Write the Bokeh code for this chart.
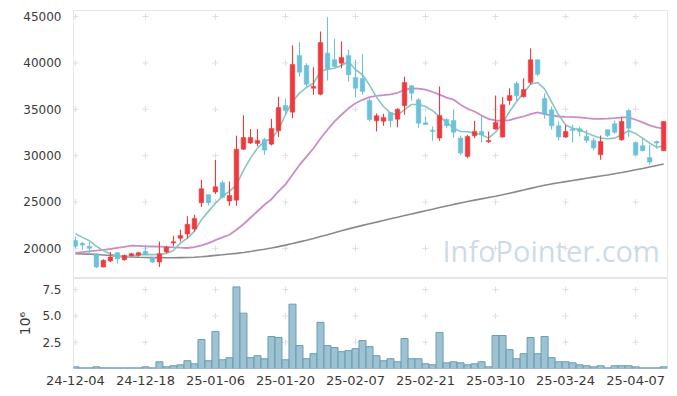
from bokeh.plotting import figure
from bokeh.layouts import column
from bokeh.models import ColumnDataSource, Range1d, FixedTicker, Label, NumeralTickFormatter
from bokeh.embed import file_html
from bokeh.resources import INLINE

dates = [
    "24-12-04", "24-12-05", "24-12-06", "24-12-09", "24-12-10", "24-12-11", "24-12-12", "24-12-13",
    "24-12-16", "24-12-17", "24-12-18", "24-12-19", "24-12-20", "24-12-23", "24-12-24", "24-12-26",
    "24-12-27", "24-12-30", "25-01-02", "25-01-03", "25-01-06", "25-01-07", "25-01-08", "25-01-09",
    "25-01-10", "25-01-13", "25-01-14", "25-01-15", "25-01-16", "25-01-17", "25-01-20", "25-01-21",
    "25-01-22", "25-01-23", "25-01-24", "25-01-31", "25-02-03", "25-02-04", "25-02-05", "25-02-06",
    "25-02-07", "25-02-10", "25-02-11", "25-02-12", "25-02-13", "25-02-14", "25-02-17", "25-02-18",
    "25-02-19", "25-02-20", "25-02-21", "25-02-24", "25-02-25", "25-02-26", "25-02-27", "25-02-28",
    "25-03-04", "25-03-05", "25-03-06", "25-03-07", "25-03-10", "25-03-11", "25-03-12", "25-03-13",
    "25-03-14", "25-03-17", "25-03-18", "25-03-19", "25-03-20", "25-03-21", "25-03-24", "25-03-25",
    "25-03-26", "25-03-27", "25-03-28", "25-03-31", "25-04-01", "25-04-02", "25-04-03", "25-04-04",
    "25-04-07", "25-04-08", "25-04-09", "25-04-10", "25-04-11",
]

opens = [20860, 20540, 20220, 19430, 17990, 18630, 19530, 18780, 19210, 19250,
         19680, 19030, 18520, 19600, 20570, 21080, 21540, 22080, 24930, 25790,
         26070, 27080, 25100, 25200, 30700, 31350, 31320, 31750, 31240, 32680,
         35410, 34690, 40800, 39720, 37270, 36630, 41050, 40330, 39970, 40800,
         38430, 38320, 35950, 33760, 33720, 34650, 33930, 35380, 37530, 36020,
         33540, 32750, 31890, 33900, 33790, 31890, 29910, 32140, 32610, 31500,
         32860, 32000, 35950, 37780, 36350, 37890, 40330, 36160, 34940, 33220,
         32000, 32860, 32900, 32070, 31640, 30100, 32790, 33440, 31710, 34870,
         31420, 31070, 29800, 31530, 30530]
highs = [21290, 20680, 20680, 19490, 18820, 19600, 19600, 19320, 19490, 19600,
         20400, 19060, 20750, 20290, 21370, 22010, 23450, 23630, 27400, 25800,
         29560, 27330, 27200, 32150, 34330, 32860, 32880, 31890, 33980, 36350,
         36130, 41880, 42230, 39970, 39540, 43380, 44920, 42600, 42300, 41410,
         40330, 40940, 36200, 34550, 34520, 34700, 35120, 38500, 37600, 36200,
         34220, 33150, 37460, 34040, 35010, 32140, 32250, 33760, 34330, 32610,
         36490, 36300, 37270, 38000, 38350, 41580, 40400, 36740, 35300, 33690,
         33330, 33330, 33150, 32790, 31890, 32180, 32850, 33790, 34150, 35010,
         31530, 31890, 31170, 31600, 33700]
lows = [20030, 19860, 19390, 17880, 17960, 18520, 18350, 18670, 19110, 19110,
        19250, 18420, 17990, 19490, 20220, 20750, 21050, 21830, 24450, 24630,
        25850, 25400, 24600, 24600, 30600, 31250, 31000, 30100, 31100, 32000,
        34410, 34040, 38540, 37460, 36560, 36500, 38100, 39500, 39430, 38000,
        36300, 36560, 33690, 32610, 33220, 33070, 33070, 34400, 35950, 32960,
        33300, 31600, 31600, 32960, 31960, 30100, 29730, 31890, 31420, 31350,
        32790, 31950, 35490, 35910, 36270, 37640, 38600, 33980, 32790, 31640,
        31900, 31420, 32070, 31350, 30560, 29560, 32000, 32360, 31600, 32000,
        30000, 30450, 29020, 30740, 30500]
closes = [20220, 20360, 20000, 17990, 18710, 19060, 18850, 19250, 19430, 19530,
          19320, 18520, 19430, 20110, 20720, 21400, 22590, 23230, 26430, 24930,
          26650, 25500, 25700, 30700, 31960, 31960, 31640, 30600, 32930, 35190,
          34870, 39830, 39000, 37700, 37460, 42200, 39370, 39610, 40580, 38720,
          37270, 36920, 33900, 34300, 34120, 33760, 35010, 37890, 36740, 33500,
          33360, 32610, 34330, 33220, 32530, 30270, 32070, 32610, 32250, 31640,
          33580, 35490, 36490, 36450, 37130, 40330, 38780, 34470, 33220, 32000,
          32610, 32720, 32610, 31640, 30810, 31530, 32180, 32530, 33690, 32960,
          30100, 30530, 29300, 31350, 33690]

volumes_m = [0.16, 0.06, 0.06, 0.16, 0.06, 0.06, 0.06, 0.06, 0.06, 0.06,
             0.16, 0.06, 0.64, 0.16, 0.26, 0.35, 0.74, 0.45, 2.76, 0.74,
             3.53, 0.83, 1.03, 7.76, 5.26, 1.03, 1.22, 0.93, 3.04, 2.95,
             0.83, 6.12, 2.18, 0.93, 1.41, 4.39, 2.18, 1.99, 1.60, 1.70,
             1.89, 2.66, 2.08, 1.22, 0.74, 0.93, 0.64, 2.85, 0.93, 0.93,
             0.45, 0.35, 3.43, 0.54, 0.64, 0.54, 0.35, 0.45, 0.64, 0.16,
             3.14, 3.14, 1.79, 0.93, 1.41, 2.95, 1.41, 3.04, 1.03, 0.64,
             0.64, 0.54, 0.35, 0.26, 0.16, 0.26, 0.06, 0.26, 0.26, 0.26,
             0.16, 0.06, 0.06, 0.06, 0.16]

ma5 = [21580, 21185, 20830, 20215, 19750, 19390, 19170, 19100, 19170, 19320,
       19320, 19320, 19330, 19450, 19780, 20570, 21110, 21830, 23090, 23990,
       24880, 25600, 26140, 26860, 28400, 29730, 30810, 31530, 31820, 32790,
       34410, 35840, 36740, 37350, 37810, 39070, 39320, 39430, 39720, 40150,
       39260, 38720, 37600, 36300, 35300, 34580, 34370, 34950, 35520, 35520,
       35300, 34850, 34200, 33600, 32960, 32610, 32570, 32430, 32250, 31890,
       32530, 33500, 34760, 35840, 36740, 37700, 37880, 37200, 35800, 34400,
       33300, 32950, 32790, 32430, 32140, 31890, 31820, 31890, 32250, 32680,
       32380, 31890, 31350, 30900, 31050]
ma20 = [19500, 19600, 19680, 19750, 19840, 19930, 20050, 20170, 20290, 20260,
        20220, 20200, 20180, 20150, 20110, 20070, 20040, 20140, 20330, 20570,
        20880, 21190, 21470, 22000, 22600, 23300, 24000, 24700, 25300, 26140,
        26900, 27940, 29000, 29900, 30800, 31850, 32790, 33690, 34410, 35100,
        35650, 36020, 36310, 36450, 36520, 36600, 36780, 37080, 37250, 37220,
        37120, 36860, 36580, 36250, 36050, 35490, 35050, 34760, 34330, 33970,
        33790, 33760, 33830, 34040, 34220, 34470, 34660, 34470, 34330, 34220,
        34180, 34150, 34120, 34040, 33970, 33970, 34000, 34040, 34120, 34120,
        33870, 33580, 33260, 33040, 32900]
ma120 = [19430, 19400, 19380, 19340, 19290, 19230, 19160, 19100, 19070, 19040,
         19020, 19000, 19000, 18990, 18990, 19000, 19010, 19040, 19090, 19160,
         19240, 19310, 19390, 19460, 19560, 19670, 19790, 19910, 20040, 20190,
         20350, 20520, 20700, 20880, 21070, 21270, 21470, 21690, 21900, 22100,
         22290, 22480, 22660, 22830, 23010, 23190, 23360, 23540, 23710, 23880,
         24050, 24220, 24400, 24570, 24740, 24900, 25060, 25200, 25340, 25480,
         25620, 25780, 25950, 26120, 26300, 26470, 26640, 26800, 26950, 27080,
         27200, 27320, 27440, 27560, 27680, 27800, 27920, 28050, 28180, 28320,
         28470, 28620, 28780, 28940, 29100]

x_ticks = [0, 10, 20, 30, 40, 50, 60, 70, 80]
price_ticks = [20000, 25000, 30000, 35000, 40000, 45000]
volume_ticks = [2.5, 5.0, 7.5]

UP = "#ee3a3e"
DOWN = "#6cc1d9"
FONT = "DejaVu Sans"
LABEL_COLOR = "#3a3a3a"
FRAME = "#e6e6e6"

idx = list(range(len(dates)))
colors = [UP if c >= o else DOWN for o, c in zip(opens, closes)]
src = ColumnDataSource(dict(
    x=idx, o=opens, h=highs, l=lows, c=closes,
    top=[max(o, c) for o, c in zip(opens, closes)],
    bottom=[min(o, c) for o, c in zip(opens, closes)],
    color=colors, vol=volumes_m, ma5=ma5, ma20=ma20, ma120=ma120,
))

x_range = Range1d(-0.27, 84.55)

def style(p):
    p.outline_line_color = FRAME
    p.xgrid.grid_line_color = None
    p.ygrid.grid_line_color = None
    for ax in p.axis:
        ax.axis_line_color = None
        ax.major_tick_line_color = None
        ax.minor_tick_line_color = None
        ax.major_label_text_font = FONT
        ax.major_label_text_color = LABEL_COLOR
        ax.major_label_text_font_size = "12px"

# ---- price chart
p = figure(width=669, height=278, x_range=x_range, y_range=Range1d(16750, 45650),
           output_backend="svg", toolbar_location=None,
           min_border_left=73, min_border_right=2, min_border_top=10, min_border_bottom=0)
style(p)
p.xaxis.visible = False
p.yaxis.ticker = FixedTicker(ticks=price_ticks)
p.yaxis.major_label_standoff = 6

cx = [x for x in x_ticks for _ in price_ticks]
cy = [y for _ in x_ticks for y in price_ticks]
p.scatter(cx, cy, marker="cross", size=6, line_color="#dedede", line_width=1)

wm = Label(x=369, y=9, x_units="screen", y_units="screen", text="InfoPointer.com",
           text_font="Open Sans", text_font_size="29px", text_color="#c3d5e2", text_alpha=0.85)
p.add_layout(wm)

p.line("x", "ma120", source=src, line_color="#8a8a8a", line_width=1.6)
p.line("x", "ma20", source=src, line_color="#cc8cc4", line_width=1.8)
p.line("x", "ma5", source=src, line_color="#86c8bf", line_width=1.6)
p.segment("x", "h", "x", "l", source=src, line_color="color", line_width=1.1)
p.vbar(x="x", top="top", bottom="bottom", width=0.66, source=src,
       fill_color="color", line_color="color", line_width=0.5)

# ---- volume chart
v = figure(width=669, height=116, x_range=x_range, y_range=Range1d(0, 8.56),
           output_backend="svg", toolbar_location=None,
           min_border_left=73, min_border_right=2, min_border_top=0, min_border_bottom=26)
style(v)
v.xaxis.ticker = FixedTicker(ticks=x_ticks)
v.xaxis.major_label_overrides = {i: dates[i] for i in x_ticks}
v.xaxis.major_label_text_font_size = "13px"
v.xaxis.major_label_standoff = 1
v.yaxis.ticker = FixedTicker(ticks=volume_ticks)
v.yaxis.formatter = NumeralTickFormatter(format="0.0")
v.yaxis.major_label_standoff = 6
v.yaxis.axis_label = "10⁶"
v.yaxis.axis_label_text_font = FONT
v.yaxis.axis_label_text_font_style = "normal"
v.yaxis.axis_label_text_font_size = "14px"
v.yaxis.axis_label_text_color = LABEL_COLOR
v.yaxis.axis_label_standoff = 6

vx = [x for x in x_ticks for _ in volume_ticks]
vy = [y for _ in x_ticks for y in volume_ticks]
v.scatter(vx, vy, marker="cross", size=6, line_color="#dedede", line_width=1)
v.vbar(x="x", top="vol", bottom=0, width=1.0, source=src,
       fill_color="#98bfd0", fill_alpha=0.95, line_color="#6b9cb5", line_width=1)

layout = column(p, v, spacing=0)
open("out.html", "w").write(file_html(layout, INLINE))
